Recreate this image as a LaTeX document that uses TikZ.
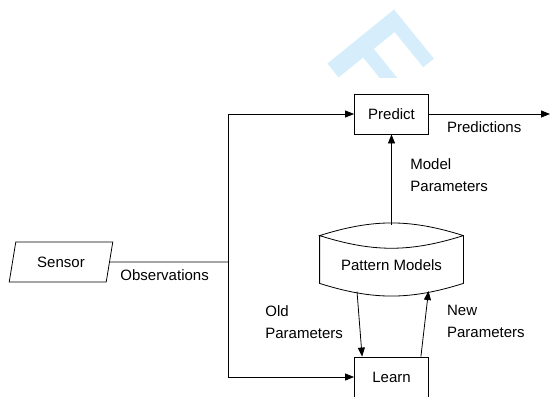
\documentclass[tikz,border=0pt]{standalone}
\usepackage{fontspec}
\setmainfont{Liberation Sans}
\usetikzlibrary{shapes.geometric,arrows.meta,positioning}
\tikzset{>={Triangle[length=9pt,width=7pt]}}
\tikzset{
  blockbox/.style={draw,minimum width=74pt,minimum height=40pt,inner sep=0pt},
  lbl/.style={anchor=west,inner sep=0pt,align=left},
}
\definecolor{wmblue}{RGB}{214,238,251}

\begin{document}
\begin{tikzpicture}[x=1pt,y=-1pt,font=\fontsize{15}{22}\selectfont,line width=0.8pt]
    \useasboundingbox (0,0) rectangle (551,396);
    \clip (0,0) rectangle (551,396);
    %%%% watermark
    \begin{scope}
        \clip (300,0) rectangle (460,77);
        \node[anchor=base west,inner sep=0pt,rotate=-51,text=wmblue,font=\fontsize{125}{125}\selectfont\bfseries] (wmark) at (322,57) {F};
    \end{scope}
    %%%% blocks
    \node[trapezium,trapezium left angle=72,trapezium right angle=108,trapezium stretches=true,draw,minimum width=104pt,minimum height=40pt,inner sep=0pt] (sensor) at (61,262) {Sensor};
    \node[blockbox] (predict) at (391.5,114) {Predict};
    \node[blockbox] (learn) at (391.5,377) {Learn};
    \node[minimum width=143pt,minimum height=36pt,inner sep=0pt] (models) at (391.5,265) {Pattern Models};
    \draw ([yshift=11pt]models.north west) -- (models.south west) to[bend right=17.5] (models.south east) -- ([yshift=11pt]models.north east) to[bend right=17.5] ([yshift=11pt]models.north west) to[bend right=17.5] ([yshift=11pt]models.north east);
    %%%% connectors
    \coordinate (split) at (228,262);
    \coordinate (out) at (550,114);
    \coordinate (mtop) at ([yshift=22pt]models.north);
    \coordinate (oldstart) at (357,291.5);
    \coordinate (newend) at (428.5,291);
    \draw (sensor.east) -- (split);
    \draw[->] (split) |- (predict.west);
    \draw[->] (split) |- (learn.west);
    \draw[->] (predict) -- (out);
    \draw[->] (mtop) -- (predict);
    \draw[->] (oldstart) -- ([xshift=8pt]learn.north west);
    \draw[->] ([xshift=-8pt]learn.north east) -- (newend);
    %%%% labels
    \node[lbl] (obslbl) at (120,275) {Observations};
    \node[lbl] (predlbl) at (446.7,127) {Predictions};
    \node[lbl] (modlbl) at (410,175.5) {Model\\Parameters};
    \node[lbl] (oldlbl) at (265,321.7) {Old\\Parameters};
    \node[lbl] (newlbl) at (446.7,321.7) {New\\Parameters};
\end{tikzpicture}
\end{document}
